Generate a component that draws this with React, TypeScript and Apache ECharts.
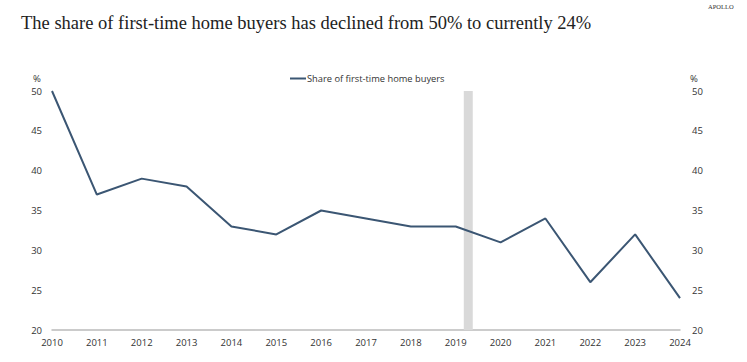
import React, { useEffect, useRef } from "react";
import * as echarts from "echarts";

const years = [2010, 2011, 2012, 2013, 2014, 2015, 2016, 2017, 2018, 2019, 2020, 2021, 2022, 2023, 2024];
const shareValues = [50, 37, 39, 38, 33, 32, 35, 34, 33, 33, 31, 34, 26, 32, 24];
const shadeRange = [2019.18, 2019.38];
const seriesName = "Share of first-time home buyers";
const titleText = "The share of first-time home buyers has declined from 50% to currently 24%";

export default function App() {
  const ref = useRef<HTMLDivElement>(null);
  useEffect(() => {
    if (!ref.current) return;
    const chart = echarts.init(ref.current, null, { renderer: "svg" });
    const labelFont = { fontFamily: "Open Sans", fontSize: 9.5, color: "#333" };
    chart.setOption({
      animation: false,
      backgroundColor: "#fff",
      title: {
        text: titleText,
        left: 16,
        top: 8,
        textStyle: { fontFamily: "Liberation Serif", fontSize: 18.5, fontWeight: "normal", color: "#222" },
      },
      graphic: [
        {
          type: "text",
          left: 708,
          top: 3,
          z: 100,
          style: { text: "APOLLO", fontFamily: "Liberation Serif", fontSize: 6.5, fill: "#333" },
        },
        { type: "text", left: 33, top: 73, style: { text: "%", fontFamily: "Open Sans", fontSize: 9.5, fill: "#333" } },
        { type: "text", left: 690, top: 73, style: { text: "%", fontFamily: "Open Sans", fontSize: 9.5, fill: "#333" } },
      ],
      legend: {
        top: 69,
        left: 285,
        itemWidth: 16,
        itemHeight: 2,
        itemGap: 4,
        icon: "rect",
        textStyle: { fontFamily: "Open Sans", fontSize: 9.3, color: "#333", padding: [0, 0, 0, -4] },
        data: [seriesName],
      },
      grid: { left: 52, right: 67, top: 91, bottom: 32, containLabel: false },
      xAxis: {
        type: "value",
        min: 2010,
        max: 2024,
        interval: 1,
        axisLine: { show: true, lineStyle: { color: "#bbb", width: 1.5 } },
        axisTick: { show: false },
        splitLine: { show: false },
        axisLabel: { ...labelFont, margin: 7, formatter: (v: number) => String(v) },
      },
      yAxis: [
        {
          type: "value",
          min: 20,
          max: 50,
          interval: 5,
          axisLine: { show: false },
          axisTick: { show: false },
          splitLine: { show: false },
          axisLabel: { ...labelFont, margin: 10 },
        },
        {
          type: "value",
          min: 20,
          max: 50,
          interval: 5,
          position: "right",
          axisLine: { show: false },
          axisTick: { show: false },
          splitLine: { show: false },
          axisLabel: { ...labelFont, margin: 12 },
        },
      ],
      series: [
        {
          name: seriesName,
          type: "line",
          data: years.map((y, i) => [y, shareValues[i]]),
          showSymbol: false,
          symbol: "none",
          lineStyle: { color: "#3b5673", width: 2 },
          itemStyle: { color: "#3b5673" },
          markArea: {
            silent: true,
            itemStyle: { color: "#d9d9d9" },
            data: [[{ xAxis: shadeRange[0] }, { xAxis: shadeRange[1] }]],
          },
        },
      ],
    });
    return () => chart.dispose();
  }, []);
  return <div ref={ref} style={{ width: 747, height: 362, position: "fixed", left: 0, top: 0 }} />;
}
